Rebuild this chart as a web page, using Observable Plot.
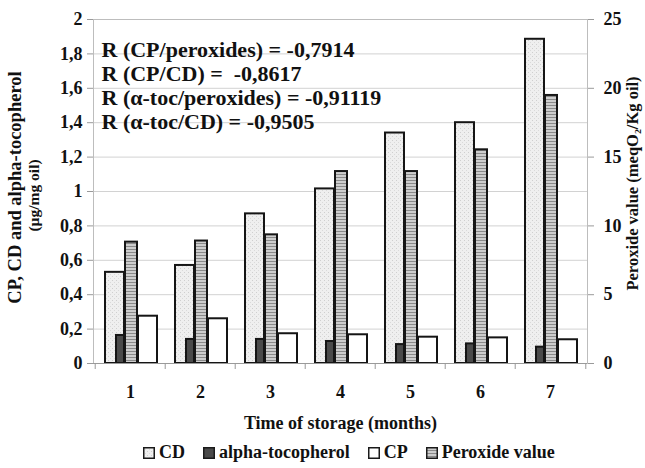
<!DOCTYPE html>
<html>
<head>
<meta charset="utf-8">
<script src="https://cdn.jsdelivr.net/npm/d3@7"></script>
<script src="https://cdn.jsdelivr.net/npm/@observablehq/plot@0.6"></script>
<style>
  html, body { margin: 0; padding: 0; background: #fff; }
  body { width: 645px; height: 468px; overflow: hidden; font-family: "Liberation Serif", "Times New Roman", serif; }
  svg text, svg tspan { font-family: "Liberation Serif", "Times New Roman", serif !important; font-weight: bold; }
  #legend { display: flex; align-items: center; height: 31px; padding-left: 143px; font-weight: bold; font-size: 18px; color: #111; }
  #legend .item { display: flex; align-items: center; margin-right: 18px; }
  #legend svg { margin-right: 4px; }
</style>
</head>
<body>
<div id="chart"></div>
<div id="legend"></div>
<script>
// ---- data ----
const months = [1, 2, 3, 4, 5, 6, 7];
const cd = [0.53, 0.57, 0.87, 1.015, 1.34, 1.40, 1.885];
const alphaToc = [0.163, 0.14, 0.14, 0.128, 0.11, 0.114, 0.095];
const cp = [0.275, 0.26, 0.173, 0.167, 0.153, 0.149, 0.138];
const peroxide = [8.82, 8.9, 9.35, 13.95, 13.95, 15.53, 19.48];
const leftTicks = [0, 0.2, 0.4, 0.6, 0.8, 1, 1.2, 1.4, 1.6, 1.8, 2];
const rightTicks = [0, 5, 10, 15, 20, 25];
const seriesNames = ["CD", "alpha-tocopherol", "CP", "Peroxide value"];
const annotationLines = [
  "R (CP/peroxides) = -0,7914",
  "R (CP/CD) =  -0,8617",
  "R (\u03B1-toc/peroxides) = -0,91119",
  "R (\u03B1-toc/CD) = -0,9505"
];
const xLabel = "Time of storage (months)";
const yLabelLine1 = "CP, CD and alpha-tocopherol";
const yLabelLine2 = "(\u00B5g/mg oil)";
const y2Label = "Peroxide value (meqO\u2082/Kg oil)";

// ---- layout ----
const W = 645, H = 437;
const mL = 93, mR = 58, mT = 19, mB = 74;
const bw = (W - mL - mR) / months.length;
const ratio = 25 / 2; // right axis max / left axis max

const rows = months.map((m, i) => ({
  month: m, cd: cd[i], alpha: alphaToc[i], cp: cp[i], perox: peroxide[i]
}));

const fmt = d => String(Math.round(d * 100) / 100).replace(".", ",");
const barStroke = {stroke: "#151515", strokeWidth: 2};

const chart = Plot.plot({
  width: W,
  height: H,
  marginLeft: mL,
  marginRight: mR,
  marginTop: mT,
  marginBottom: mB,
  style: {fontFamily: "'Liberation Serif', 'Times New Roman', serif", fontWeight: "bold", fontSize: "18px", color: "#111", background: "#fff"},
  x: {type: "band", domain: months, padding: 0},
  y: {domain: [0, 2]},
  marks: [
    Plot.ruleY(leftTicks, {stroke: "#d2d2d2", strokeWidth: 1}),
    Plot.frame({stroke: "#bdbdbd", strokeWidth: 1}),
    Plot.barY(rows, {x: "month", y: "cd", fill: "url(#cdPat)", ...barStroke, insetLeft: 10, insetRight: 41}),
    Plot.barY(rows, {x: "month", y: "cp", fill: "#ffffff", ...barStroke, insetLeft: 43, insetRight: 8}),
    Plot.barY(rows, {x: "month", y: "alpha", fill: "#4a4a4a", ...barStroke, insetLeft: 21, insetRight: 41}),
    Plot.barY(rows, {x: "month", y: d => d.perox / ratio, fill: "url(#peroxPat)", ...barStroke, insetLeft: 30, insetRight: 28}),
    Plot.ruleY([0], {stroke: "#9a9a9a", strokeWidth: 1.2}),
    Plot.ruleX(months, {x: d => d, dx: -bw / 2, y1: 0, y2: 0, insetBottom: -6, stroke: "#9a9a9a"}),
    Plot.ruleX([months[months.length - 1]], {x: d => d, dx: bw / 2, y1: 0, y2: 0, insetBottom: -6, stroke: "#9a9a9a"}),
    Plot.axisY(leftTicks, {anchor: "left", tickSize: 6, tickPadding: 5, tickFormat: fmt, stroke: "#9a9a9a", fill: "#111", fontSize: 18, label: null}),
    Plot.axisY(rightTicks.map(v => v / ratio), {anchor: "right", tickSize: 6, tickPadding: 10, tickFormat: d => fmt(d * ratio), stroke: "#9a9a9a", fill: "#111", fontSize: 18, label: null}),
    Plot.axisX({tickSize: 0, tickPadding: 22, fill: "#111", fontSize: 18, label: null}),
    Plot.text([annotationLines.join("\n")], {text: d => d, frameAnchor: "top-left", textAnchor: "start", lineAnchor: "top", dx: 8, dy: 21, fontSize: 22, fontWeight: "bold", lineHeight: 1.08, fill: "#111"}),
    Plot.text([yLabelLine1], {text: d => d, frameAnchor: "left", textAnchor: "middle", lineAnchor: "middle", rotate: -90, dx: -78, dy: -4, fontSize: 18.5, fontWeight: "bold", fill: "#111"}),
    Plot.text([yLabelLine2], {text: d => d, frameAnchor: "left", textAnchor: "middle", lineAnchor: "middle", rotate: -90, dx: -59, dy: 4, fontSize: 15.5, fontWeight: "bold", fill: "#111"}),
    Plot.text([y2Label], {text: d => d, frameAnchor: "right", textAnchor: "middle", lineAnchor: "middle", rotate: -90, dx: 45, dy: -8, fontSize: 16.5, fontWeight: "bold", fill: "#111"}),
    Plot.text([xLabel], {text: d => d, frameAnchor: "bottom", textAnchor: "middle", lineAnchor: "middle", dy: 60, fontSize: 18, fontWeight: "bold", fill: "#111"})
  ]
});

// patterns for textured bars
const ns = "http://www.w3.org/2000/svg";
const defs = document.createElementNS(ns, "defs");
defs.innerHTML = `
  <pattern id="cdPat" patternUnits="userSpaceOnUse" width="4" height="4">
    <rect width="4" height="4" fill="#efefef"></rect>
    <rect x="0" y="0" width="1" height="1" fill="#cfcfcf"></rect>
    <rect x="2" y="2" width="1" height="1" fill="#dadada"></rect>
  </pattern>
  <pattern id="peroxPat" patternUnits="userSpaceOnUse" width="4" height="3">
    <rect width="4" height="3" fill="#cdcdcd"></rect>
    <rect x="0" y="0" width="4" height="1" fill="#8a8a8a"></rect>
  </pattern>`;
chart.insertBefore(defs, chart.firstChild);
document.getElementById("chart").appendChild(chart);

// legend
const swatchFills = ["url(#cdPat)", "#4a4a4a", "#ffffff", "url(#peroxPat)"];
const legend = document.getElementById("legend");
seriesNames.forEach((name, i) => {
  const item = document.createElement("div");
  item.className = "item";
  item.innerHTML = `<svg width="12" height="12"><rect x="0.75" y="0.75" width="10.5" height="10.5" fill="${swatchFills[i]}" stroke="#1a1a1a" stroke-width="1.5"></rect></svg><span>${name}</span>`;
  legend.appendChild(item);
});
</script>
</body>
</html>
